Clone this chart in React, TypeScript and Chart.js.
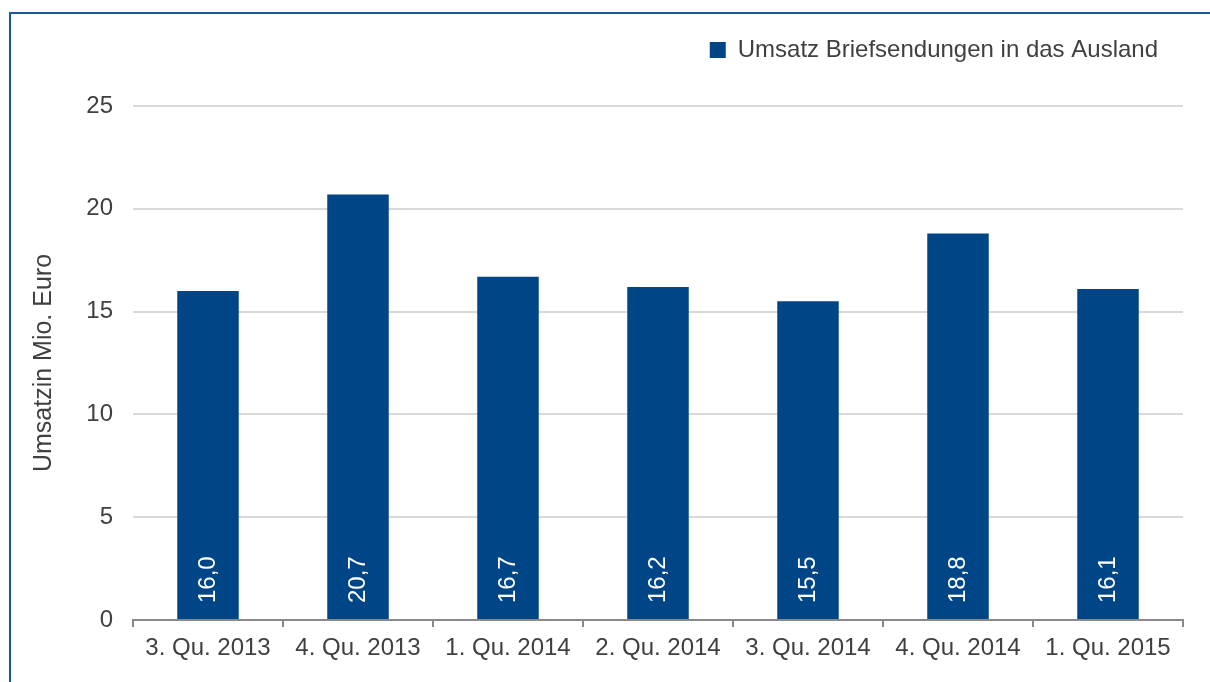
import React, { useEffect, useRef } from "react";
import { Chart, registerables } from "chart.js";

Chart.register(...registerables);

const categories = [
  "3. Qu. 2013",
  "4. Qu. 2013",
  "1. Qu. 2014",
  "2. Qu. 2014",
  "3. Qu. 2014",
  "4. Qu. 2014",
  "1. Qu. 2015",
];
const seriesName = "Umsatz Briefsendungen in das Ausland";
const revenue = [16.0, 20.7, 16.7, 16.2, 15.5, 18.8, 16.1];
const yAxisTitle = "Umsatzin Mio. Euro";
const yMin = 0;
const yMax = 25;
const yStep = 5;

const FONT = "'Liberation Sans', Arial, Helvetica, sans-serif";
const TEXT = "#404040";
const BAR = "#004687";

const barLabelPlugin = {
  id: "barLabels",
  afterDatasetsDraw(chart: any) {
    const { ctx, chartArea } = chart;
    const meta = chart.getDatasetMeta(0);
    ctx.save();
    ctx.fillStyle = "#ffffff";
    ctx.font = `24px ${FONT}`;
    ctx.textAlign = "left";
    ctx.textBaseline = "middle";
    meta.data.forEach((bar: any, i: number) => {
      const v = chart.data.datasets[0].data[i] as number;
      const txt = v.toFixed(1).replace(".", ",");
      ctx.save();
      ctx.translate(bar.x, chartArea.bottom - 17);
      ctx.rotate(-Math.PI / 2);
      ctx.fillText(txt, 0, 0);
      ctx.restore();
    });
    ctx.restore();
  },
};

export default function App() {
  const ref = useRef<HTMLCanvasElement | null>(null);

  useEffect(() => {
    if (!ref.current) return;
    const chart = new Chart(ref.current, {
      type: "bar",
      data: {
        labels: categories,
        datasets: [
          {
            label: seriesName,
            data: revenue,
            backgroundColor: BAR,
            borderWidth: 0,
            categoryPercentage: 1,
            barPercentage: 0.41,
          },
        ],
      },
      options: {
        responsive: false,
        animation: false,
        layout: { padding: { top: 13, right: 27, bottom: 0, left: 0 } },
        plugins: {
          legend: {
            display: true,
            position: "top",
            align: "end",
            weight: 1000,
            labels: {
              boxWidth: 16,
              boxHeight: 16,
              padding: 25,
              color: TEXT,
              font: { size: 24, family: FONT },
            },
          },
          title: {
            display: true,
            text: "",
            weight: 500,
            font: { size: 10, family: FONT },
            padding: { top: 0, bottom: 22 },
          },
          tooltip: { enabled: false },
        },
        scales: {
          x: {
            grid: {
              display: true,
              drawOnChartArea: false,
              drawTicks: true,
              tickLength: 7,
              color: "#898989",
              lineWidth: 2,
            },
            border: { display: true, color: "#898989", width: 2 },
            ticks: {
              color: TEXT,
              font: { size: 24, family: FONT },
              padding: 7,
              maxRotation: 0,
              autoSkip: false,
            },
            afterFit(scale: any) {
              scale.height = 62;
            },
          },
          y: {
            min: yMin,
            max: yMax,
            ticks: {
              stepSize: yStep,
              color: TEXT,
              font: { size: 24, family: FONT },
              padding: 20,
            },
            grid: {
              color: "#d9d9d9",
              lineWidth: 2,
              drawTicks: false,
            },
            border: { display: false },
            title: {
              display: true,
              text: yAxisTitle,
              color: TEXT,
              font: { size: 25, family: FONT },
              padding: { top: 29, bottom: 0 },
            },
            afterFit(scale: any) {
              scale.width = 133;
            },
          },
        },
      },
      plugins: [barLabelPlugin],
    });
    return () => chart.destroy();
  }, []);

  return (
    <div
      style={{
        position: "fixed",
        left: 0,
        top: 0,
        width: 1210,
        height: 682,
        background: "#ffffff",
        overflow: "hidden",
      }}
    >
      <canvas
        ref={ref}
        width={1210}
        height={682}
        style={{ position: "absolute", left: 0, top: 0, width: 1210, height: 682 }}
      />
      <div
        style={{
          position: "absolute",
          left: 9,
          top: 12,
          right: -20,
          bottom: -20,
          borderLeft: "2px solid #1f56a0",
          borderTop: "2px solid #1f56a0",
          pointerEvents: "none",
        }}
      />
    </div>
  );
}
